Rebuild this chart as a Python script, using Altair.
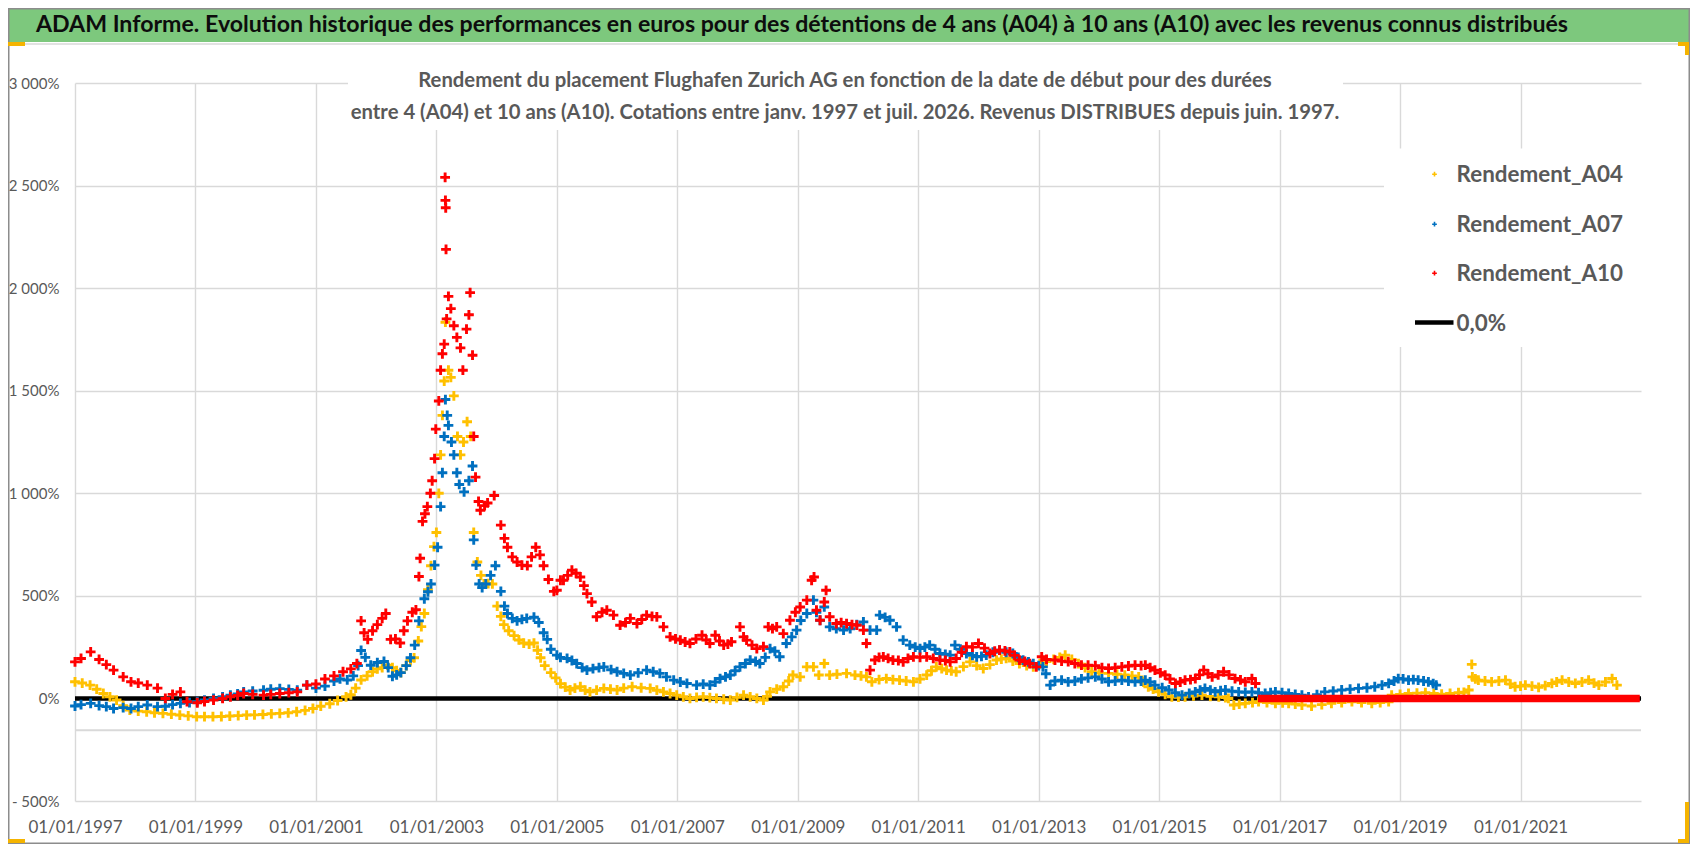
import altair as alt
import pandas as pd

# ------------------------------------------------------------------ data
# (decimal year, rendement %)
A04 = [
    (1997.00, 81), (1997.12, 75), (1997.25, 65), (1997.36, 45), (1997.47, 24), (1997.58, 8),
    (1997.69, -8), (1997.80, -35), (1997.91, -57), (1998.05, -62), (1998.19, -65), (1998.32, -70),
    (1998.46, -73), (1998.60, -77), (1998.74, -81), (1998.88, -85), (1999.02, -89), (1999.15, -89),
    (1999.29, -89), (1999.43, -88), (1999.57, -86), (1999.71, -84), (1999.85, -81), (1999.98, -80),
    (2000.12, -78), (2000.26, -75), (2000.40, -73), (2000.54, -70), (2000.68, -65), (2000.82, -58),
    (2000.95, -49), (2001.08, -38), (2001.23, -26), (2001.36, -10), (2001.50, 8), (2001.58, 18),
    (2001.66, 50), (2001.75, 90), (2001.85, 110), (2001.94, 130), (2002.02, 144), (2002.10, 150),
    (2002.19, 162), (2002.27, 150), (2002.34, 135), (2002.41, 126), (2002.50, 160), (2002.57, 185),
    (2002.63, 198), (2002.70, 280), (2002.75, 350), (2002.80, 414), (2002.86, 530), (2002.91, 647),
    (2002.96, 740), (2003.00, 809), (2003.04, 1000), (2003.07, 1187), (2003.10, 1380), (2003.13, 1547),
    (2003.15, 1834), (2003.20, 1600), (2003.24, 1565), (2003.29, 1475), (2003.35, 1277), (2003.40, 1187),
    (2003.45, 1250), (2003.51, 1349), (2003.57, 1277), (2003.62, 809), (2003.68, 665), (2003.74, 600),
    (2003.79, 558), (2003.86, 560), (2003.93, 558), (2004.01, 450), (2004.07, 400), (2004.12, 360),
    (2004.20, 330), (2004.29, 306), (2004.37, 285), (2004.45, 270), (2004.54, 265), (2004.62, 270),
    (2004.68, 235), (2004.73, 198), (2004.80, 160), (2004.90, 126), (2004.98, 100), (2005.06, 72),
    (2005.14, 55), (2005.22, 41), (2005.30, 50), (2005.39, 57), (2005.47, 40), (2005.55, 32),
    (2005.66, 40), (2005.78, 49), (2005.89, 45), (2006.00, 41), (2006.11, 50), (2006.25, 57),
    (2006.40, 52), (2006.55, 49), (2006.66, 40), (2006.77, 32), (2006.88, 24), (2006.99, 16),
    (2007.10, 8), (2007.21, 0), (2007.32, 5), (2007.43, 8), (2007.54, 4), (2007.65, 0),
    (2007.77, -4), (2007.88, -8), (2007.99, 5), (2008.10, 16), (2008.21, 8), (2008.32, 0),
    (2008.43, -8), (2008.49, 10), (2008.54, 32), (2008.65, 45), (2008.76, 57), (2008.85, 85),
    (2008.92, 114), (2009.04, 105), (2009.15, 154), (2009.26, 154), (2009.35, 114), (2009.44, 170),
    (2009.53, 114), (2009.65, 118), (2009.81, 122), (2009.95, 114), (2010.05, 110), (2010.14, 105),
    (2010.23, 81), (2010.35, 92), (2010.47, 97), (2010.58, 92), (2010.69, 89), (2010.80, 85),
    (2010.92, 81), (2011.03, 95), (2011.14, 114), (2011.22, 135), (2011.30, 154), (2011.39, 145),
    (2011.47, 138), (2011.55, 134), (2011.63, 130), (2011.75, 155), (2011.86, 178), (2011.97, 160),
    (2012.08, 146), (2012.19, 165), (2012.30, 187), (2012.38, 192), (2012.46, 195), (2012.57, 182),
    (2012.68, 170), (2012.80, 160), (2012.91, 154), (2013.02, 170), (2013.13, 180), (2013.25, 190),
    (2013.35, 200), (2013.44, 211), (2013.55, 190), (2013.66, 170), (2013.77, 150), (2013.88, 130),
    (2014.00, 126), (2014.16, 122), (2014.30, 118), (2014.43, 114), (2014.55, 110), (2014.66, 105),
    (2014.74, 80), (2014.82, 57), (2014.90, 45), (2014.99, 32), (2015.10, 20), (2015.21, 8),
    (2015.32, 6), (2015.43, 8), (2015.57, 12), (2015.71, 16), (2015.85, 10), (2015.99, 8),
    (2016.10, 4), (2016.15, 0), (2016.24, -32), (2016.33, -28), (2016.43, -24), (2016.55, -20),
    (2016.65, -16), (2016.79, -20), (2016.93, -24), (2017.05, -22), (2017.15, -24), (2017.26, -28),
    (2017.37, -32), (2017.53, -37), (2017.70, -30), (2017.86, -24), (2018.03, -20), (2018.20, -16),
    (2018.36, -20), (2018.53, -24), (2018.67, -20), (2018.81, -16), (2018.86, 16), (2019.00, 20),
    (2019.14, 24), (2019.28, 26), (2019.42, 28), (2019.56, 24), (2019.69, 21), (2019.83, 24),
    (2019.97, 28), (2020.06, 30), (2020.14, 41), (2020.19, 166), (2020.20, 105), (2020.25, 95),
    (2020.30, 89), (2020.41, 85), (2020.52, 81), (2020.64, 85), (2020.75, 89), (2020.83, 70),
    (2020.91, 57), (2021.00, 60), (2021.08, 65), (2021.19, 60), (2021.30, 54), (2021.41, 62),
    (2021.52, 73), (2021.60, 80), (2021.69, 89), (2021.80, 80), (2021.91, 73), (2022.02, 80),
    (2022.13, 89), (2022.22, 75), (2022.30, 65), (2022.41, 80), (2022.52, 97), (2022.60, 65),
]

A07 = [
    (1997.00, -37), (1997.10, -30), (1997.26, -24), (1997.40, -35), (1997.52, -40), (1997.64, -49),
    (1997.80, -45), (1997.93, -49), (1998.05, -40), (1998.20, -32), (1998.37, -40), (1998.50, -38),
    (1998.62, -30), (1998.75, -24), (1998.90, -20), (1999.03, -16), (1999.15, -8), (1999.30, 0),
    (1999.45, 8), (1999.58, 16), (1999.70, 22), (1999.80, 32), (1999.95, 36), (2000.13, 40),
    (2000.25, 45), (2000.40, 48), (2000.55, 44), (2000.69, 40), (2000.85, 65), (2001.00, 50),
    (2001.15, 60), (2001.30, 85), (2001.40, 95), (2001.52, 90), (2001.62, 110), (2001.70, 160),
    (2001.75, 234), (2001.82, 200), (2001.91, 162), (2002.02, 175), (2002.13, 180), (2002.20, 150),
    (2002.27, 108), (2002.34, 115), (2002.41, 126), (2002.50, 160), (2002.57, 198), (2002.64, 260),
    (2002.71, 378), (2002.80, 486), (2002.86, 520), (2002.91, 558), (2002.97, 650), (2003.02, 737),
    (2003.07, 935), (2003.10, 1100), (2003.13, 1277), (2003.15, 1457), (2003.18, 1380), (2003.20, 1331),
    (2003.25, 1250), (2003.29, 1187), (2003.34, 1100), (2003.38, 1043), (2003.46, 1007), (2003.54, 1061),
    (2003.60, 1133), (2003.62, 773), (2003.66, 650), (2003.71, 558), (2003.76, 540), (2003.82, 558),
    (2003.90, 600), (2003.98, 647), (2004.07, 522), (2004.13, 450), (2004.18, 414), (2004.26, 390),
    (2004.34, 378), (2004.42, 385), (2004.50, 390), (2004.62, 396), (2004.70, 370), (2004.78, 320),
    (2004.84, 288), (2004.90, 240), (2005.00, 211), (2005.06, 200), (2005.17, 195), (2005.25, 185),
    (2005.33, 170), (2005.42, 150), (2005.50, 138), (2005.60, 145), (2005.70, 150), (2005.78, 154),
    (2005.90, 140), (2006.00, 130), (2006.11, 122), (2006.22, 114), (2006.35, 125), (2006.49, 138),
    (2006.60, 130), (2006.71, 122), (2006.82, 105), (2006.94, 89), (2007.05, 80), (2007.16, 73),
    (2007.32, 65), (2007.43, 70), (2007.54, 65), (2007.63, 80), (2007.71, 97), (2007.80, 105),
    (2007.88, 114), (2007.96, 135), (2008.04, 154), (2008.13, 170), (2008.21, 187), (2008.30, 180),
    (2008.37, 170), (2008.46, 200), (2008.54, 243), (2008.62, 230), (2008.70, 203), (2008.81, 268),
    (2008.90, 300), (2008.98, 333), (2009.05, 380), (2009.15, 414), (2009.26, 479), (2009.31, 420),
    (2009.37, 381), (2009.44, 446), (2009.53, 349), (2009.64, 340), (2009.76, 333), (2009.87, 340),
    (2009.98, 360), (2010.09, 373), (2010.20, 333), (2010.31, 333), (2010.36, 406), (2010.45, 395),
    (2010.53, 381), (2010.64, 349), (2010.75, 284), (2010.86, 260), (2010.95, 250), (2011.03, 243),
    (2011.11, 250), (2011.19, 260), (2011.28, 240), (2011.36, 219), (2011.45, 215), (2011.53, 211),
    (2011.61, 260), (2011.70, 240), (2011.80, 219), (2011.90, 210), (2011.97, 203), (2012.05, 205),
    (2012.13, 211), (2012.24, 225), (2012.35, 235), (2012.46, 225), (2012.57, 219), (2012.66, 200),
    (2012.74, 187), (2012.83, 178), (2012.91, 170), (2013.00, 160), (2013.07, 154), (2013.12, 120),
    (2013.19, 65), (2013.27, 85), (2013.38, 89), (2013.49, 81), (2013.60, 85), (2013.71, 95),
    (2013.82, 100), (2013.94, 105), (2014.05, 95), (2014.16, 81), (2014.27, 85), (2014.38, 89),
    (2014.49, 85), (2014.60, 81), (2014.70, 85), (2014.77, 89), (2014.85, 80), (2014.93, 65),
    (2015.05, 52), (2015.16, 41), (2015.27, 28), (2015.38, 16), (2015.50, 25), (2015.60, 32),
    (2015.68, 40), (2015.76, 49), (2015.85, 40), (2015.93, 32), (2016.02, 38), (2016.10, 41),
    (2016.21, 35), (2016.32, 32), (2016.43, 30), (2016.54, 32), (2016.65, 28), (2016.76, 24),
    (2016.85, 28), (2016.93, 32), (2017.04, 28), (2017.15, 24), (2017.26, 20), (2017.37, 16),
    (2017.48, 8), (2017.62, 18), (2017.75, 32), (2017.89, 36), (2018.03, 41), (2018.17, 45),
    (2018.31, 49), (2018.45, 52), (2018.58, 57), (2018.70, 65), (2018.81, 73), (2018.90, 85),
    (2018.97, 97), (2019.05, 95), (2019.14, 89), (2019.22, 92), (2019.30, 89), (2019.39, 85),
    (2019.47, 81), (2019.55, 72), (2019.60, 65),
]

A10 = [
    (1997.00, 178), (1997.10, 195), (1997.26, 227), (1997.40, 190), (1997.52, 165), (1997.64, 138),
    (1997.80, 105), (1997.93, 81), (1998.05, 75), (1998.20, 65), (1998.37, 50), (1998.50, 0),
    (1998.62, 20), (1998.75, 32), (1998.86, -16), (1999.03, -21), (1999.15, -15), (1999.30, -8),
    (1999.45, 0), (1999.58, 8), (1999.70, 15), (1999.80, 24), (1999.95, 20), (2000.13, 16),
    (2000.25, 20), (2000.40, 24), (2000.55, 28), (2000.69, 32), (2000.85, 65), (2001.00, 70),
    (2001.15, 95), (2001.30, 110), (2001.45, 130), (2001.58, 144), (2001.68, 170), (2001.75, 378),
    (2001.80, 320), (2001.86, 288), (2001.94, 330), (2002.02, 360), (2002.10, 390), (2002.16, 414),
    (2002.24, 288), (2002.32, 290), (2002.40, 270), (2002.46, 330), (2002.52, 378), (2002.60, 420),
    (2002.66, 432), (2002.71, 594), (2002.73, 683), (2002.77, 863), (2002.81, 900), (2002.85, 935),
    (2002.90, 1000), (2002.93, 1061), (2002.97, 1169), (2002.99, 1313), (2003.04, 1450), (2003.07, 1600),
    (2003.10, 1680), (2003.13, 1727), (2003.145, 2540), (2003.15, 2428), (2003.155, 2392), (2003.16, 2189),
    (2003.17, 1850), (2003.20, 1960), (2003.24, 1900), (2003.29, 1817), (2003.34, 1760), (2003.40, 1709),
    (2003.44, 1600), (2003.50, 1800), (2003.54, 1870), (2003.56, 1978), (2003.60, 1673), (2003.62, 1277),
    (2003.65, 1079), (2003.70, 960), (2003.73, 917), (2003.80, 940), (2003.85, 953), (2003.96, 989),
    (2004.07, 845), (2004.13, 780), (2004.18, 737), (2004.26, 690), (2004.34, 665), (2004.42, 650),
    (2004.51, 647), (2004.58, 690), (2004.65, 737), (2004.72, 700), (2004.78, 647), (2004.86, 580),
    (2004.95, 522), (2005.00, 527), (2005.06, 576), (2005.11, 576), (2005.18, 600), (2005.25, 625),
    (2005.32, 610), (2005.39, 592), (2005.45, 550), (2005.50, 511), (2005.58, 470), (2005.66, 398),
    (2005.75, 420), (2005.83, 430), (2005.94, 406), (2006.05, 357), (2006.14, 370), (2006.22, 390),
    (2006.33, 365), (2006.41, 385), (2006.49, 406), (2006.58, 400), (2006.66, 398), (2006.77, 349),
    (2006.88, 300), (2006.97, 290), (2007.05, 284), (2007.13, 275), (2007.21, 268), (2007.31, 290),
    (2007.41, 308), (2007.48, 285), (2007.54, 268), (2007.63, 308), (2007.70, 280), (2007.77, 260),
    (2007.84, 265), (2007.90, 276), (2008.04, 349), (2008.10, 300), (2008.15, 284), (2008.24, 260),
    (2008.32, 243), (2008.43, 252), (2008.51, 349), (2008.58, 340), (2008.65, 349), (2008.76, 316),
    (2008.87, 381), (2008.96, 420), (2009.04, 446), (2009.15, 479), (2009.23, 576), (2009.27, 592),
    (2009.31, 430), (2009.37, 381), (2009.44, 470), (2009.47, 527), (2009.53, 398), (2009.64, 365),
    (2009.72, 370), (2009.81, 365), (2009.90, 360), (2009.98, 357), (2010.09, 333), (2010.14, 268),
    (2010.20, 138), (2010.28, 187), (2010.35, 200), (2010.42, 203), (2010.50, 195), (2010.58, 187),
    (2010.67, 185), (2010.75, 178), (2010.83, 195), (2010.92, 203), (2011.03, 200), (2011.14, 203),
    (2011.25, 195), (2011.36, 187), (2011.45, 185), (2011.53, 178), (2011.63, 195), (2011.72, 225),
    (2011.80, 252), (2011.90, 250), (2012.00, 268), (2012.10, 245), (2012.19, 219), (2012.27, 230),
    (2012.35, 235), (2012.44, 232), (2012.52, 227), (2012.60, 210), (2012.68, 187), (2012.77, 180),
    (2012.85, 170), (2012.96, 154), (2013.05, 203), (2013.13, 190), (2013.27, 187), (2013.38, 182),
    (2013.49, 179), (2013.60, 170), (2013.71, 162), (2013.82, 162), (2013.94, 160), (2014.05, 150),
    (2014.16, 146), (2014.27, 150), (2014.38, 154), (2014.49, 158), (2014.60, 162), (2014.70, 160),
    (2014.77, 162), (2014.85, 150), (2014.93, 138), (2015.02, 125), (2015.10, 114), (2015.18, 95),
    (2015.27, 73), (2015.35, 80), (2015.43, 89), (2015.52, 92), (2015.60, 97), (2015.67, 115),
    (2015.74, 138), (2015.81, 120), (2015.88, 105), (2015.98, 115), (2016.07, 130), (2016.16, 115),
    (2016.26, 97), (2016.35, 90), (2016.43, 81), (2016.54, 97), (2016.60, 73),
]
# A10 sits on 0 % from here to the end of the axis
A10_ZERO_SPAN = (2016.64, 2022.98)

SERIES = ["Rendement_A04", "Rendement_A07", "Rendement_A10"]
COLORS = ["#FFC000", "#0070C0", "#FF0000"]
ZERO_LABEL = "0,0%"

X_DOMAIN = [1997, 2023]
X_TICKS = [1997, 1999, 2001, 2003, 2005, 2007, 2009, 2011, 2013, 2015, 2017, 2019, 2021]
Y_DOMAIN = [-500, 3000]
Y_TICKS = [-500, 0, 500, 1000, 1500, 2000, 2500, 3000]
AXIS_CROSS = -155   # grey category-axis line drawn below the 0 % line

TITLE = ("ADAM Informe. Evolution historique des performances en euros pour des détentions "
         "de 4 ans (A04) à 10 ans (A10) avec les revenus connus distribués")
SUBTITLE = [
    "Rendement du placement Flughafen Zurich AG en fonction de la date de début pour des durées",
    "entre 4 (A04) et 10 ans (A10).  Cotations entre janv. 1997 et juil. 2026. Revenus DISTRIBUES depuis juin. 1997.",
]

# ---------------------------------------------------------------- styling
FONT = "Lato"
INK = "#0d0d0d"
GREY_TXT = "#595959"
GRID = "#d9d9d9"
GREEN = "#7dc87d"
GOLD = "#f5b400"
PLUS = "M-1,0H1M0,-1V1"   # Excel-like "+" marker

W, H = 1566, 718
PAD_L, PAD_T = 67, 75
PAD_R, PAD_B = 1682 - PAD_L - W, 836 - PAD_T - H

frames = []
for name, pts in zip(SERIES, [A04, A07, A10]):
    frames.append(pd.DataFrame({"t": [p[0] for p in pts], "v": [p[1] for p in pts], "serie": name}))
df = pd.concat(frames, ignore_index=True)

x_scale = alt.Scale(domain=X_DOMAIN, nice=False, zero=False)
y_scale = alt.Scale(domain=Y_DOMAIN, nice=False, zero=False)

x_axis = alt.Axis(
    values=X_TICKS, labelExpr="'01/01/' + datum.value", title=None,
    grid=True, gridColor=GRID, gridWidth=1.4, domain=False, ticks=False,
    labelOverlap=False, labelFlush=False,
    labelPadding=18, labelFont=FONT, labelFontSize=17, labelColor=GREY_TXT,
)
y_axis = alt.Axis(
    values=Y_TICKS, title=None,
    labelExpr=("datum.value == 0 ? '0%' : (datum.value < 0 ? '- ' : '') + "
               "replace(format(abs(datum.value), ','), ',', ' ') + '%'"),
    grid=True, gridColor=GRID, gridWidth=1.4, domain=False, ticks=False,
    labelPadding=16, labelFont=FONT, labelFontSize=15, labelColor=GREY_TXT,
)

one = alt.Chart(pd.DataFrame({"k": [0]}))

cross_line = one.mark_rule(color=GRID, strokeWidth=2).encode(
    x=alt.X(datum=X_DOMAIN[0], type="quantitative", scale=x_scale),
    x2=alt.datum(X_DOMAIN[1]),
    y=alt.Y(datum=AXIS_CROSS, type="quantitative", scale=y_scale),
)
zero_line = one.mark_rule(color="black", strokeWidth=4.5).encode(
    x=alt.X(datum=X_DOMAIN[0], type="quantitative", scale=x_scale),
    x2=alt.datum(X_DOMAIN[1]),
    y=alt.Y(datum=0, type="quantitative", scale=y_scale),
)
points = alt.Chart(df).mark_point(shape=PLUS, filled=False, size=96, strokeWidth=2.9, opacity=1).encode(
    x=alt.X("t:Q", scale=x_scale, axis=x_axis),
    y=alt.Y("v:Q", scale=y_scale, axis=y_axis),
    color=alt.Color("serie:N", scale=alt.Scale(domain=SERIES, range=COLORS), legend=None),
)
a10_zero = one.mark_rule(color=COLORS[2], strokeWidth=7.5).encode(
    x=alt.X(datum=A10_ZERO_SPAN[0], type="quantitative", scale=x_scale),
    x2=alt.datum(A10_ZERO_SPAN[1]),
    y=alt.Y(datum=0, type="quantitative", scale=y_scale),
)

# white boxes behind the chart title and the legend (they hide the grid)
title_box = one.mark_rect(color="white").encode(
    x=alt.value(273), x2=alt.value(1268), y=alt.value(-28), y2=alt.value(47))
legend_box = one.mark_rect(color="white").encode(
    x=alt.value(1309), x2=alt.value(W + 2), y=alt.value(65.5), y2=alt.value(264))

# chrome: banner, borders, selection handles
banner = one.mark_rect(color=GREEN).encode(
    x=alt.value(-PAD_L), x2=alt.value(W + PAD_R), y=alt.value(-PAD_T), y2=alt.value(-41))
banner_text = one.mark_text(
    text=TITLE, font=FONT, fontSize=23.15, fontWeight="bold", color=INK,
    align="center", baseline="alphabetic",
).encode(x=alt.value(727), y=alt.value(-51))
outer = one.mark_rect(fill=None, stroke="#8c8c8c", strokeWidth=1.5).encode(
    x=alt.value(-PAD_L + 0.75), x2=alt.value(W + PAD_R - 0.75),
    y=alt.value(-PAD_T + 0.75), y2=alt.value(H + PAD_B - 0.75))
sep = one.mark_rule(color=GRID, strokeWidth=1.5).encode(
    x=alt.value(-PAD_L), x2=alt.value(W + PAD_R), y=alt.value(-39))
handles = [
    one.mark_rect(color=GOLD).encode(x=alt.value(-PAD_L), x2=alt.value(-50),
                                     y=alt.value(-41), y2=alt.value(-37)),
    one.mark_rect(color=GOLD).encode(x=alt.value(W + PAD_R - 12), x2=alt.value(W + PAD_R - 1),
                                     y=alt.value(-41), y2=alt.value(-37)),
    one.mark_rect(color=GOLD).encode(x=alt.value(W + PAD_R - 5), x2=alt.value(W + PAD_R - 1),
                                     y=alt.value(-41), y2=alt.value(-28)),
    one.mark_rect(color=GOLD).encode(x=alt.value(W + PAD_R - 5), x2=alt.value(W + PAD_R - 1),
                                     y=alt.value(H + 1), y2=alt.value(H + PAD_B - 1)),
    one.mark_rect(color=GOLD).encode(x=alt.value(W + PAD_R - 12), x2=alt.value(W + PAD_R - 1),
                                     y=alt.value(H + PAD_B - 5), y2=alt.value(H + PAD_B - 1)),
    one.mark_rect(color=GOLD).encode(x=alt.value(-PAD_L), x2=alt.value(-50),
                                     y=alt.value(H + PAD_B - 5), y2=alt.value(H + PAD_B - 1)),
]

subtitle = [
    one.mark_text(text=line, font=FONT, fontSize=20.3, fontWeight="bold", color=GREY_TXT,
                  align="center", baseline="alphabetic").encode(x=alt.value(770), y=alt.value(yy))
    for line, yy in zip(SUBTITLE, [4, 35.5])
]

# legend
LEG_Y = [98.9, 148.9, 197.9, 247.9]
legend = []
for name, col, yy in zip(SERIES, COLORS, LEG_Y[:3]):
    legend.append(one.mark_point(shape=PLUS, filled=False, size=22, strokeWidth=1.6,
                                 color=col, opacity=1)
                  .encode(x=alt.value(1359.5), y=alt.value(yy - 7.7)))
legend.append(one.mark_rule(color="black", strokeWidth=4.5).encode(
    x=alt.value(1340), x2=alt.value(1378.5), y=alt.value(LEG_Y[3] - 8.5)))
for name, yy in zip(SERIES + [ZERO_LABEL], LEG_Y):
    legend.append(one.mark_text(text=name, font=FONT, fontSize=22.4, fontWeight="bold",
                                color=GREY_TXT, align="left", baseline="alphabetic")
                  .encode(x=alt.value(1381.6), y=alt.value(yy)))

chart = alt.layer(
    cross_line, zero_line, points, a10_zero, title_box, legend_box,
    banner, sep, outer, banner_text, *handles, *subtitle, *legend,
).properties(
    width=W, height=H,
    autosize=alt.AutoSizeParams(type="none"),
    padding={"left": PAD_L, "top": PAD_T, "right": PAD_R, "bottom": PAD_B},
    background="white",
).configure_view(stroke=None)

chart.save("out.html", embed_options={"renderer": "svg", "actions": False})
